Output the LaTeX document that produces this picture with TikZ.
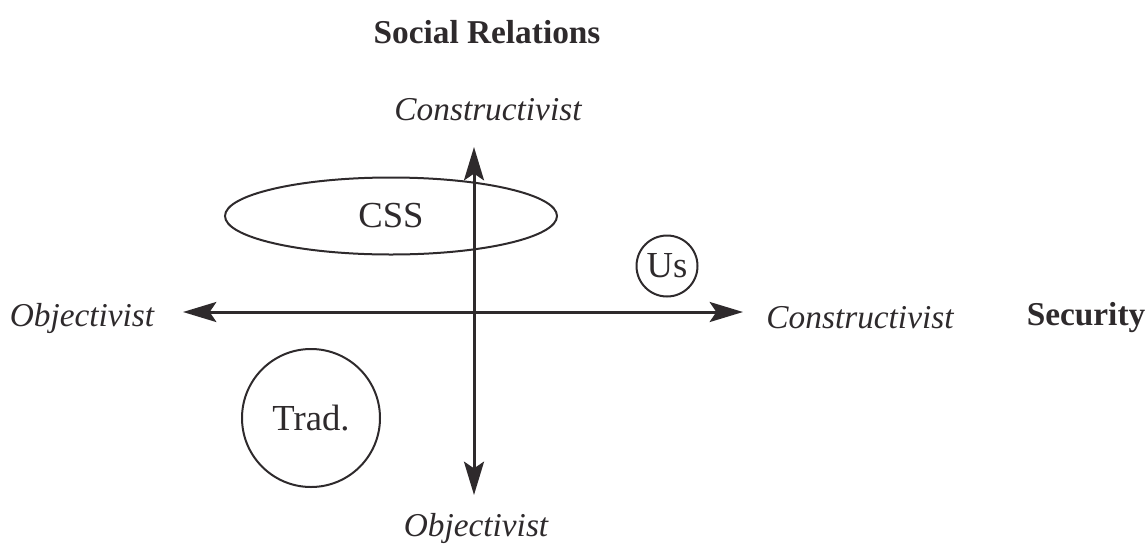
\documentclass[tikz,border=0pt]{standalone}
\usepackage{fontspec}
\setmainfont{Liberation Serif}
\usetikzlibrary{arrows.meta,shapes.geometric}
\definecolor{inkGray}{HTML}{2E2A2C}
\tikzset{
  axis arrow/.style={{Stealth[length=10pt,width=6pt,inset=2pt]}-{Stealth[length=10pt,width=6pt,inset=2pt]},
    line width=0.9pt, draw=inkGray},
  pole label/.style={font=\itshape, text=inkGray},
  dimension label/.style={font=\bfseries, text=inkGray},
  approach ellipse/.style={ellipse, draw=inkGray, line width=0.6pt,
    inner sep=0pt, text=inkGray, font=\fontsize{11}{13}\selectfont},
  approach circle/.style={circle, draw=inkGray, line width=0.6pt,
    inner sep=0pt, text=inkGray, font=\fontsize{11}{13}\selectfont}
}

\begin{document}
\begin{tikzpicture}[x=0.3pt, y=-0.3pt]
  \useasboundingbox (0,0) rectangle (1145,547);
  % axes
  \coordinate (north) at (474,147);
  \coordinate (south) at (474,495);
  \coordinate (west) at (183,312);
  \coordinate (east) at (743,312);
  \draw[axis arrow] (west) -- (east);
  \draw[axis arrow] (south) -- (north);
  % dimension and pole labels
  \node[dimension label] (social) at (487,32) {Social Relations};
  \node[dimension label] (security) at (1086,318) {Security};
  \node[pole label] (socCon) at (488,110) {Constructivist};
  \node[pole label] (socObj) at (476,528) {Objectivist};
  \node[pole label] (secObj) at (82,318) {Objectivist};
  \node[pole label] (secCon) at (860,318) {Constructivist};
  % approaches
  \node[approach ellipse, minimum width=99.6pt, minimum height=23.1pt] (css) at (391,216) {CSS};
  \node[approach circle, minimum size=18.3pt] (us) at (667,266) {Us};
  \node[approach circle, minimum size=41.4pt] (trad) at (311,418) {Trad.};
\end{tikzpicture}
\end{document}
